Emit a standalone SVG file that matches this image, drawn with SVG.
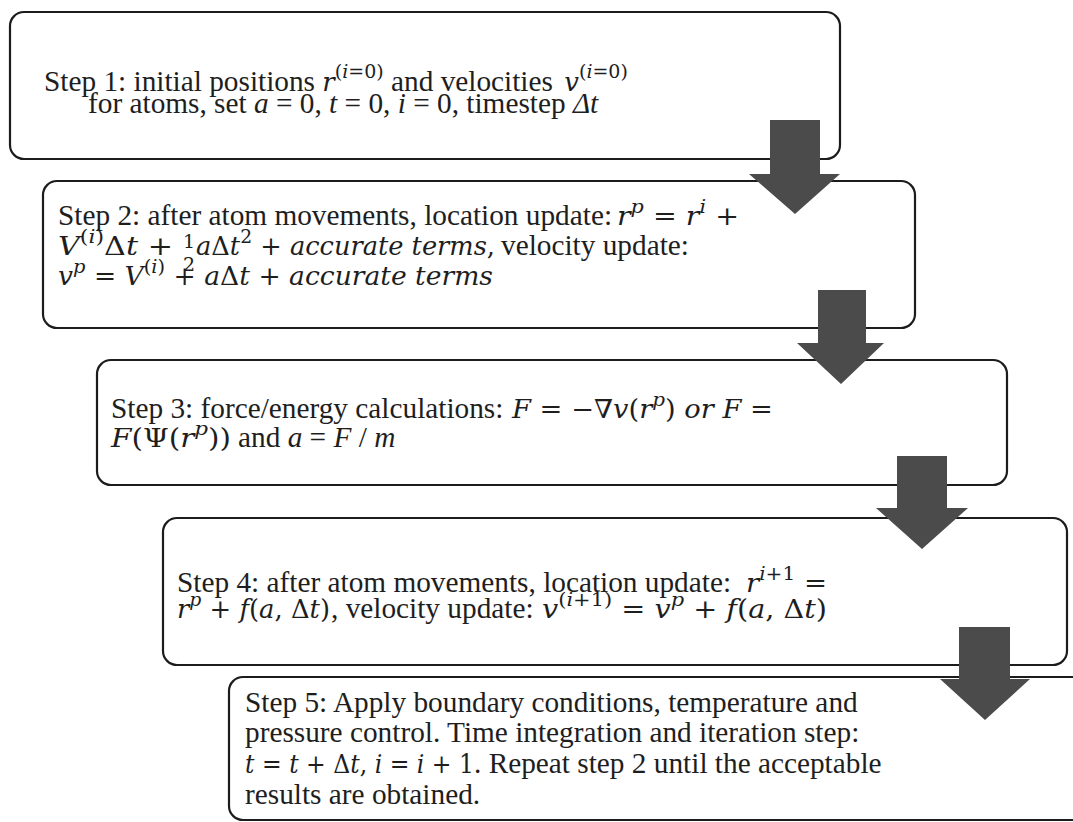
<svg xmlns="http://www.w3.org/2000/svg" width="1073" height="822" viewBox="0 0 1073 822">
  <style>
    .box { fill: #ffffff; stroke: #1c1c1c; stroke-width: 2.2; }
    .arrow { fill: #4b4b4b; }
    text { font-family: "Liberation Serif", "Times New Roman", serif; font-size: 29.3px; fill: #1e1e1e; }
    .i { font-style: italic; }
    .m { font-family: "DejaVu Serif", serif; font-size: 26px; }
    .mi { font-family: "DejaVu Serif", serif; font-size: 26px; font-style: italic; }
    .s { font-family: "DejaVu Serif", serif; font-size: 19px; font-style: normal; }
    .si { font-family: "DejaVu Serif", serif; font-size: 19px; font-style: italic; }
    .fr { font-family: "DejaVu Serif", serif; font-size: 19px; }
  </style>
  <rect width="1073" height="822" fill="#ffffff"/>

  <!-- Step 1 -->
  <g id="step1">
    <rect class="box" x="10" y="12" width="830" height="147" rx="14"/>
    <text x="44" y="91">Step 1: initial positions <tspan class="mi">r</tspan><tspan class="s" dy="-13">(</tspan><tspan class="si">i</tspan><tspan class="s">=0)</tspan><tspan dy="13"> and velocities </tspan><tspan class="mi" dx="4">v</tspan><tspan class="s" dy="-13">(</tspan><tspan class="si">i</tspan><tspan class="s">=0)</tspan></text>
    <text x="88" y="113">for atoms, set <tspan class="i">a</tspan> = 0, <tspan class="i">t</tspan> = 0, <tspan class="i">i</tspan> = 0, timestep <tspan class="i">Δt</tspan></text>
  </g>

  <!-- Step 2 -->
  <g id="step2">
    <rect class="box" x="43" y="181" width="872" height="147" rx="14"/>
    <text x="58" y="225">Step 2: after atom movements, location update:</text>
    <text class="m" x="617" y="225" textLength="122" lengthAdjust="spacingAndGlyphs"><tspan class="mi">r</tspan><tspan class="si" dy="-12">p</tspan><tspan dy="12"> = </tspan><tspan class="mi">r</tspan><tspan class="si" dy="-12">i</tspan><tspan dy="12"> +</tspan></text>

    <text class="m" x="58" y="255" textLength="115" lengthAdjust="spacingAndGlyphs"><tspan class="mi">V</tspan><tspan class="s" dy="-12">(</tspan><tspan class="si">i</tspan><tspan class="s">)</tspan><tspan dy="12">Δ</tspan><tspan class="mi">t</tspan> +</text>
    <text class="fr" x="183" y="248">1</text>
    <text class="fr" x="183" y="271">2</text>
    <text class="m" x="196" y="255" textLength="299" lengthAdjust="spacingAndGlyphs"><tspan class="mi">a</tspan>Δ<tspan class="mi">t</tspan><tspan class="s" dy="-12">2</tspan><tspan dy="12"> + </tspan><tspan class="mi">accurate terms</tspan>,</text>
    <text x="501" y="255">velocity update:</text>

    <text class="m" x="58" y="285" textLength="435" lengthAdjust="spacingAndGlyphs"><tspan class="mi">v</tspan><tspan class="si" dy="-12">p</tspan><tspan dy="12"> = </tspan><tspan class="mi">V</tspan><tspan class="s" dy="-12">(</tspan><tspan class="si">i</tspan><tspan class="s">)</tspan><tspan dy="12"> + </tspan><tspan class="mi">a</tspan>Δ<tspan class="mi">t</tspan> + <tspan class="mi">accurate terms</tspan></text>
  </g>

  <!-- Step 3 -->
  <g id="step3">
    <rect class="box" x="97" y="360" width="910" height="125" rx="14"/>
    <text x="111" y="418">Step 3: force/energy calculations:</text>
    <text class="m" x="512" y="418" textLength="261" lengthAdjust="spacingAndGlyphs"><tspan class="mi">F</tspan> = −<tspan class="mi">∇v</tspan>(<tspan class="mi">r</tspan><tspan class="si" dy="-12">p</tspan><tspan dy="12">) </tspan><tspan class="mi">or F</tspan> =</text>
    <text class="m" x="111" y="447" textLength="120" lengthAdjust="spacingAndGlyphs"><tspan class="mi">F</tspan>(Ψ(<tspan class="mi">r</tspan><tspan class="si" dy="-12">p</tspan><tspan dy="12">))</tspan></text>
    <text x="238" y="447">and <tspan class="i">a</tspan> = <tspan class="i">F</tspan> / <tspan class="i">m</tspan></text>
  </g>

  <!-- Step 4 -->
  <g id="step4">
    <rect class="box" x="163" y="518" width="904" height="147" rx="14"/>
    <text x="177" y="592">Step 4: after atom movements, location update:</text>
    <text class="m" x="746" y="592" textLength="81" lengthAdjust="spacingAndGlyphs"><tspan class="mi">r</tspan><tspan class="si" dy="-12">i</tspan><tspan class="s">+1</tspan><tspan dy="12"> =</tspan></text>
    <text class="m" x="177" y="618" textLength="153" lengthAdjust="spacingAndGlyphs"><tspan class="mi">r</tspan><tspan class="si" dy="-12">p</tspan><tspan dy="12"> + </tspan><tspan class="mi">f</tspan>(<tspan class="mi">a</tspan>, Δ<tspan class="mi">t</tspan>)</text>
    <text x="331" y="618">, velocity update:</text>
    <text class="m" x="542" y="618" textLength="285" lengthAdjust="spacingAndGlyphs"><tspan class="mi">v</tspan><tspan class="s" dy="-12">(</tspan><tspan class="si">i</tspan><tspan class="s">+1)</tspan><tspan dy="12"> = </tspan><tspan class="mi">v</tspan><tspan class="si" dy="-12">p</tspan><tspan dy="12"> + </tspan><tspan class="mi">f</tspan>(<tspan class="mi">a</tspan>, Δ<tspan class="mi">t</tspan>)</text>
  </g>

  <!-- Step 5 -->
  <g id="step5">
    <rect class="box" x="229" y="677" width="880" height="143" rx="14"/>
    <text x="245" y="712">Step 5: Apply boundary conditions, temperature and</text>
    <text x="245" y="742">pressure control. Time integration and iteration step:</text>
    <text class="m" x="245" y="773" textLength="229" lengthAdjust="spacingAndGlyphs"><tspan class="mi">t</tspan> = <tspan class="mi">t</tspan> + Δ<tspan class="mi">t</tspan>, <tspan class="mi">i</tspan> = <tspan class="mi">i</tspan> + 1</text>
    <text x="474" y="773">. Repeat step 2 until the acceptable</text>
    <text x="245" y="804">results are obtained.</text>
  </g>

  <!-- block arrows between consecutive steps -->
  <g id="connectors">
    <path class="arrow" d="M770,120 H820 V174 H840 L795,214 L749,174 H770 Z"/>
    <path class="arrow" d="M818,290 H866 V343 H884 L841,384 L797,343 H818 Z"/>
    <path class="arrow" d="M897,456 H947 V508 H968 L922,549 L876,508 H897 Z"/>
    <path class="arrow" d="M959,627 H1010 V679 H1030 L985,720 L940,679 H959 Z"/>
  </g>
</svg>
